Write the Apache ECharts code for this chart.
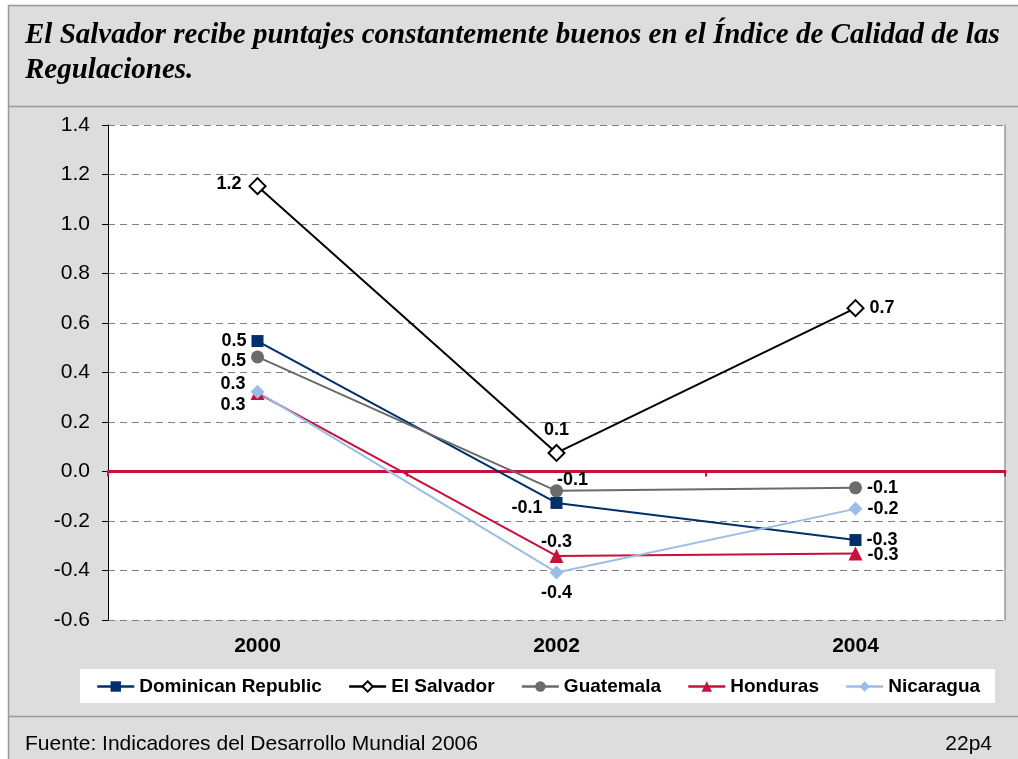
<!DOCTYPE html>
<html>
<head>
<meta charset="utf-8">
<script src="https://cdn.jsdelivr.net/npm/echarts@6/dist/echarts.min.js"></script>
<style>
  html, body { margin: 0; padding: 0; background: #fff; }
  #chart { width: 1018px; height: 759px; }
</style>
</head>
<body>
<div id="chart"></div>
<script>
// datos
const years = ["2000", "2002", "2004"];
const dominicanRepublic = [0.527, -0.127, -0.277];
const elSalvador = [1.153, 0.075, 0.66];
const guatemala = [0.463, -0.078, -0.066];
const honduras = [0.317, -0.341, -0.331];
const nicaragua = [0.322, -0.408, -0.151];
const yTicks = { min: -0.6, max: 1.4, step: 0.2 };

const titleText = "El Salvador recibe puntajes constantemente buenos en el Índice de Calidad de las\nRegulaciones.";
const sourceText = "Fuente: Indicadores del Desarrollo Mundial 2006";
const pageText = "22p4";

const chart = echarts.init(document.getElementById("chart"));

const labelFont = {
  color: "#000",
  fontFamily: "Liberation Sans, Arial, sans-serif",
  fontWeight: "bold",
  fontSize: 18,
};

// etiqueta de cada punto (posicion segun el grafico original)
function withLabels(values, positions) {
  return values.map(function (v, i) {
    return { value: v, label: positions[i] };
  });
}

function lineSeries(name, values, color, symbol, symbolSize, positions) {
  return {
    name: name,
    type: "line",
    symbol: symbol,
    symbolSize: symbolSize,
    showSymbol: true,
    lineStyle: { color: color, width: 2 },
    itemStyle: { color: color },
    label: Object.assign({
      show: true,
      distance: 5,
      formatter: function (p) {
        return p.value.toFixed(1);
      },
    }, labelFont),
    emphasis: { disabled: true },
    data: withLabels(values, positions),
    z: 3,
  };
}

const option = {
  backgroundColor: "#fff",
  animation: false,
  textStyle: { fontFamily: "Liberation Sans, Arial, sans-serif" },
  graphic: [
    {
      type: "rect",
      z: -100,
      shape: { x: 8.5, y: 5.5, width: 1020, height: 760 },
      style: { fill: "#dddddd", stroke: "#999", lineWidth: 1.5 },
    },
    {
      type: "line",
      shape: { x1: 8, y1: 106.5, x2: 1018, y2: 106.5 },
      style: { stroke: "#999", lineWidth: 1.5 },
    },
    {
      type: "line",
      shape: { x1: 8, y1: 716.5, x2: 1018, y2: 716.5 },
      style: { stroke: "#999", lineWidth: 1.5 },
    },
    {
      type: "text",
      left: 25,
      top: 734,
      style: {
        text: sourceText,
        fill: "#000",
        font: "21px Liberation Sans, Arial, sans-serif",
      },
    },
    {
      type: "text",
      right: 26,
      top: 734,
      style: {
        text: pageText,
        fill: "#000",
        font: "21px Liberation Sans, Arial, sans-serif",
      },
    },
  ],
  title: {
    text: titleText,
    left: 25,
    top: 18,
    padding: 0,
    textStyle: {
      fontFamily: "Liberation Serif, Times New Roman, serif",
      fontStyle: "italic",
      fontWeight: "bold",
      fontSize: 29,
      lineHeight: 35,
      color: "#000",
    },
  },
  legend: {
    left: 80,
    top: 669,
    padding: [8, 15, 7, 16],
    backgroundColor: "#fff",
    itemWidth: 37,
    itemHeight: 13,
    itemGap: 26,
    lineStyle: { width: 2.5 },
    textStyle: {
      color: "#000",
      fontWeight: "bold",
      fontSize: 19,
      lineHeight: 18,
    },
    data: ["Dominican Republic", "El Salvador", "Guatemala", "Honduras", "Nicaragua"],
  },
  grid: {
    left: 108,
    right: 13,
    top: 125,
    bottom: 139,
    show: true,
    backgroundColor: "#fff",
    borderWidth: 0,
  },
  xAxis: [
    {
      type: "category",
      data: years,
      position: "bottom",
      axisLine: { show: false, onZero: false },
      axisTick: { show: false },
      axisLabel: {
        color: "#000",
        fontWeight: "bold",
        fontSize: 21,
        margin: 16,
      },
    },
    {
      // linea roja en cero
      type: "category",
      data: years,
      position: "bottom",
      axisLine: { show: true, onZero: true, lineStyle: { color: "#c8103c", width: 3 } },
      axisTick: { show: true, length: 5, lineStyle: { color: "#c8103c", width: 2 } },
      axisLabel: { show: false },
      z: 2,
    },
  ],
  yAxis: [
    {
      type: "value",
      min: yTicks.min,
      max: yTicks.max,
      interval: yTicks.step,
      axisLine: { show: true, lineStyle: { color: "#000", width: 1 } },
      axisTick: { show: true, length: 6, lineStyle: { color: "#000" } },
      axisLabel: {
        color: "#000",
        fontSize: 21,
        margin: 18,
        formatter: function (v) {
          return v.toFixed(1);
        },
      },
      splitLine: {
        show: true,
        lineStyle: { color: "#808080", type: [7, 5], width: 1 },
      },
    },
    {
      type: "value",
      position: "right",
      min: yTicks.min,
      max: yTicks.max,
      interval: yTicks.step,
      axisLine: { show: true, lineStyle: { color: "#999", width: 1.5 } },
      axisTick: { show: false },
      axisLabel: { show: false },
      splitLine: { show: false },
    },
  ],
  series: [
    lineSeries("Dominican Republic", dominicanRepublic, "#002f6c", "rect", 12, [
      { position: "left" },
      { position: "left", offset: [-3, 5] },
      { position: "right" },
    ]),
    lineSeries("El Salvador", elSalvador, "#000000", "emptyDiamond", 16, [
      { position: "left", offset: [-2, -2] },
      { position: "top" },
      { position: "right" },
    ]),
    lineSeries("Guatemala", guatemala, "#6b6b6b", "circle", 13, [
      { position: "left", offset: [0, 4] },
      { position: "top", offset: [16, 10] },
      { position: "right" },
    ]),
    lineSeries("Honduras", honduras, "#c8103c", "triangle", 14, [
      { position: "left", offset: [0, 12] },
      { position: "top", offset: [0, 7] },
      { position: "right", offset: [0, 2] },
    ]),
    lineSeries("Nicaragua", nicaragua, "#9bbde6", "diamond", 14, [
      { position: "left", offset: [0, -8] },
      { position: "bottom" },
      { position: "right" },
    ]),
  ],
};

chart.setOption(option);
</script>
</body>
</html>
